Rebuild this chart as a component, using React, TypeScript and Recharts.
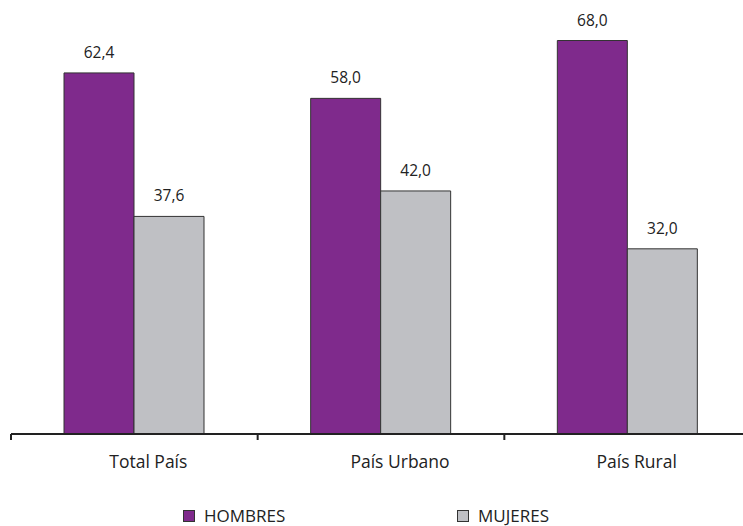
import { BarChart, Bar, XAxis, YAxis, LabelList } from 'recharts';

const categories = ['Total País', 'País Urbano', 'País Rural'];
const hombres = [62.4, 58.0, 68.0];
const mujeres = [37.6, 42.0, 32.0];

const data = categories.map((name, i) => ({ name, hombres: hombres[i], mujeres: mujeres[i] }));

const PURPLE = '#7f2a8c';
const GRAY = '#bfc0c4';
const FONT = '"Open Sans", sans-serif';
const CHART_W = 751;
const LEFT = 11;
const BAND = (CHART_W - LEFT) / categories.length;
const LABEL_DX = [14, 19, 9]; // the original labels sit a bit right of the band centre

const fmt = (v: number) => v.toFixed(1).replace('.', ',');

// category label plus a tick mark on the left edge of each band
function CatTick(props: any) {
  const { x, y, payload, index } = props;
  const edge = x - BAND / 2;
  return (
    <g>
      <line x1={edge} y1={y} x2={edge} y2={y + 6} stroke="#222" strokeWidth={2} />
      <text x={x + (LABEL_DX[index] ?? 0)} y={y + 34} textAnchor="middle" fill="#222" fontSize={17.5} fontFamily={FONT}>
        {payload.value}
      </text>
    </g>
  );
}

function LegendItem({ color, label, left }: { color: string; label: string; left: number }) {
  return (
    <div style={{ position: 'absolute', top: 506, left, display: 'flex', alignItems: 'center', fontSize: 17, lineHeight: '19px', color: '#222' }}>
      <span style={{ width: 10, height: 10, background: color, border: '1px solid #333', marginRight: 9 }} />
      {label}
    </div>
  );
}

export default function App() {
  return (
    <div style={{ position: 'absolute', left: 0, top: 0, width: 743, height: 526, overflow: 'hidden', background: '#fff', fontFamily: FONT }}>
      <BarChart
        width={CHART_W}
        height={490}
        data={data}
        margin={{ top: 0, right: 0, bottom: 0, left: LEFT }}
        barGap={0}
        barSize={70}
      >
        <XAxis
          dataKey="name"
          stroke="#222"
          strokeWidth={2}
          tickLine={false}
          tickSize={0}
          tickMargin={0}
          height={56}
          tick={<CatTick />}
          interval={0}
        />
        <YAxis hide domain={[0, 75]} />
        <Bar dataKey="hombres" fill={PURPLE} stroke="#333" strokeWidth={1} isAnimationActive={false}>
          <LabelList dataKey="hombres" position="top" offset={15} formatter={(v: number) => fmt(v)} style={{ fill: '#222', fontSize: 15.5, fontFamily: FONT }} />
        </Bar>
        <Bar dataKey="mujeres" fill={GRAY} stroke="#333" strokeWidth={1} isAnimationActive={false}>
          <LabelList dataKey="mujeres" position="top" offset={15} formatter={(v: number) => fmt(v)} style={{ fill: '#222', fontSize: 15.5, fontFamily: FONT }} />
        </Bar>
      </BarChart>
      <LegendItem color={PURPLE} label="HOMBRES" left={183} />
      <LegendItem color={GRAY} label="MUJERES" left={457} />
    </div>
  );
}
